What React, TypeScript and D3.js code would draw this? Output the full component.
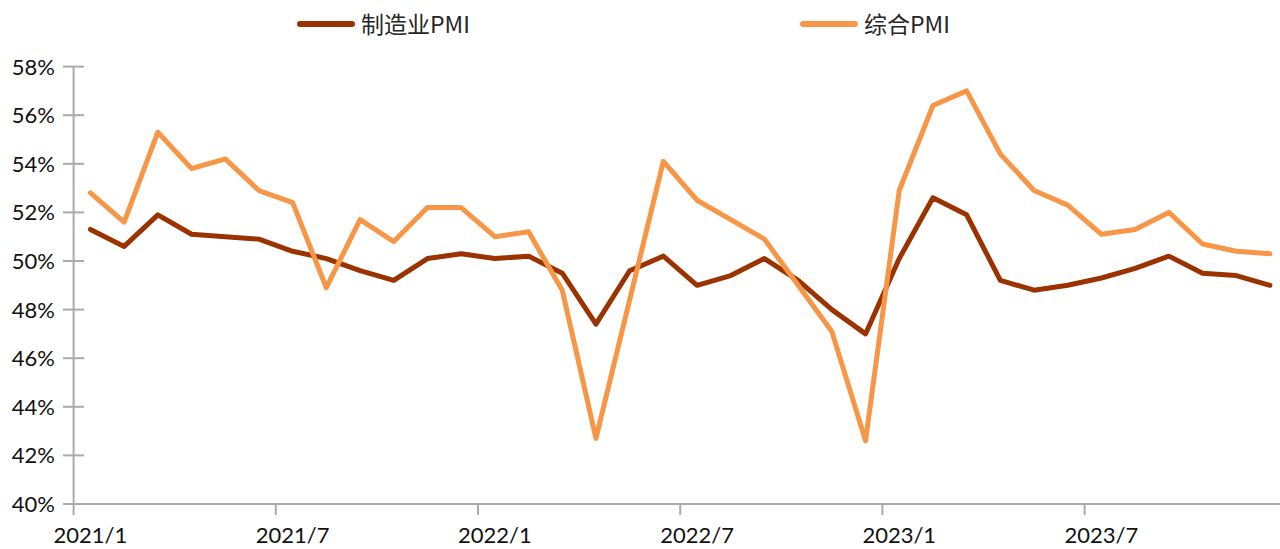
import React from "react";
import * as d3 from "d3";

const months: string[] = [];
for (let y = 2021; y <= 2023; y++) for (let m = 1; m <= 12; m++) months.push(`${y}/${m}`);

const manufacturingPMI = [
  51.3, 50.6, 51.9, 51.1, 51.0, 50.9, 50.4, 50.1, 49.6, 49.2, 50.1, 50.3,
  50.1, 50.2, 49.5, 47.4, 49.6, 50.2, 49.0, 49.4, 50.1, 49.2, 48.0, 47.0,
  50.1, 52.6, 51.9, 49.2, 48.8, 49.0, 49.3, 49.7, 50.2, 49.5, 49.4, 49.0,
];
const compositePMI = [
  52.8, 51.6, 55.3, 53.8, 54.2, 52.9, 52.4, 48.9, 51.7, 50.8, 52.2, 52.2,
  51.0, 51.2, 48.8, 42.7, 48.4, 54.1, 52.5, 51.7, 50.9, 49.0, 47.1, 42.6,
  52.9, 56.4, 57.0, 54.4, 52.9, 52.3, 51.1, 51.3, 52.0, 50.7, 50.4, 50.3,
];
const yTicks = [40, 42, 44, 46, 48, 50, 52, 54, 56, 58];
const seriesNames = ["制造业PMI", "综合PMI"];
const seriesColors = ["#9A3300", "#F79646"];

const W = 1280;
const H = 549;
const x0 = 73.6;
const step = 33.7;

export default function App() {
  const x = d3.scaleLinear().domain([0, 36]).range([x0, x0 + 36 * step]);
  const y = d3.scaleLinear().domain([40, 58]).range([504, 66.6]);
  const line = d3
    .line<number>()
    .x((_, i) => x(i + 0.5))
    .y((d) => y(d));
  const series = [manufacturingPMI, compositePMI];
  const axisColor = "#ABABAB";
  const tickFont = "Lato, 'Open Sans', sans-serif";
  const xTickIdx = d3.range(0, 37, 6);
  const labelIdx = d3.range(0, 36, 6);
  const legendX = [297, 800];
  return (
    <svg
      width={W}
      height={H}
      style={{ position: "absolute", left: 0, top: 0, display: "block", background: "#fff" }}
    >
      {/* legend */}
      {seriesNames.map((n, i) => (
        <g key={n}>
          <line
            x1={legendX[i] + 3}
            x2={legendX[i] + 55}
            y1={24}
            y2={24}
            stroke={seriesColors[i]}
            strokeWidth={6}
            strokeLinecap="round"
          />
          <text
            x={legendX[i] + 64}
            y={24.5}
            dy="0.36em"
            fontSize={23}
            fontFamily="'Noto Sans CJK SC', 'Noto Sans', sans-serif"
            fill="#262626"
          >
            {n}
          </text>
        </g>
      ))}
      {/* y axis */}
      <line x1={x0} x2={x0} y1={y(58)} y2={y(40)} stroke={axisColor} strokeWidth={2} />
      {yTicks.map((t) => (
        <g key={t}>
          <line x1={63} x2={84} y1={y(t)} y2={y(t)} stroke={axisColor} strokeWidth={2} />
          <text
            x={55}
            y={y(t)}
            dy="0.36em"
            textAnchor="end"
            fontSize={22}
            fontFamily={tickFont}
            fill="#111"
          >
            {t}%
          </text>
        </g>
      ))}
      {/* x axis */}
      <line x1={63} x2={W} y1={y(40)} y2={y(40)} stroke={axisColor} strokeWidth={2} />
      {xTickIdx.map((k) => (
        <line key={k} x1={x(k)} x2={x(k)} y1={y(40)} y2={y(40) + 11} stroke={axisColor} strokeWidth={2} />
      ))}
      {labelIdx.map((k) => (
        <text
          key={k}
          x={x(k + 0.5)}
          y={535}
          dy="0.36em"
          textAnchor="middle"
          fontSize={22}
          fontFamily={tickFont}
          fill="#111"
        >
          {months[k]}
        </text>
      ))}
      {/* lines */}
      {series.map((s, i) => (
        <path
          key={i}
          d={line(s) || ""}
          fill="none"
          stroke={seriesColors[i]}
          strokeWidth={5}
          strokeLinejoin="round"
          strokeLinecap="round"
        />
      ))}
    </svg>
  );
}
